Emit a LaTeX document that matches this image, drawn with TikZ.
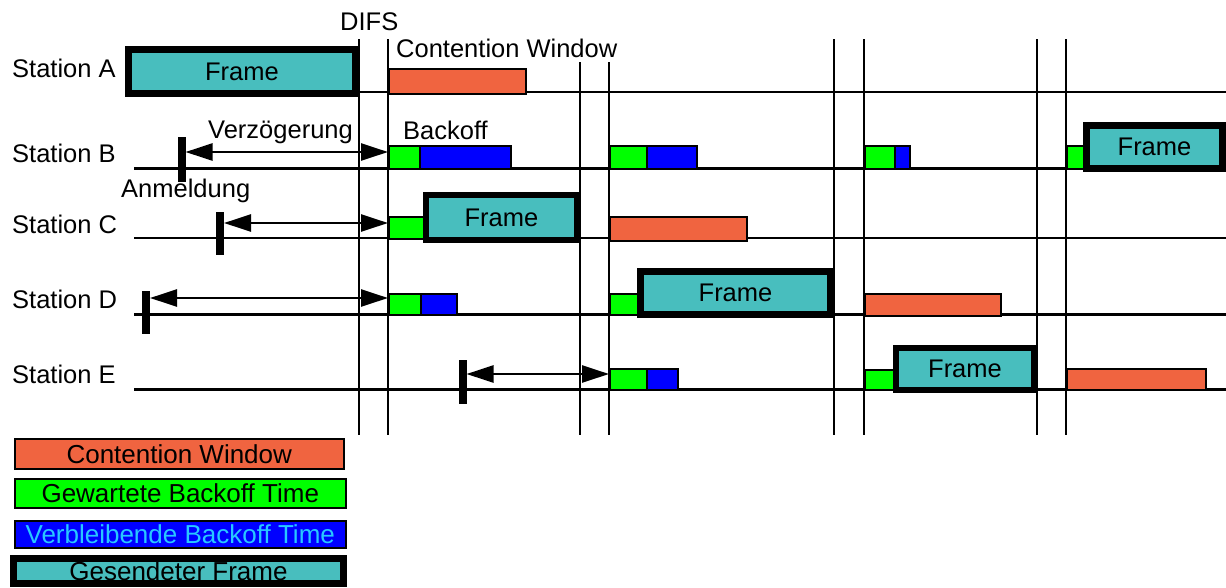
\documentclass[tikz,border=0pt]{standalone}
\usepackage{fontspec}
\setmainfont{Liberation Sans}
\usepackage{xcolor}
\usetikzlibrary{arrows.meta}
\definecolor{cwred}{RGB}{240,100,64}
\definecolor{frmteal}{RGB}{72,190,190}
\definecolor{bogreen}{RGB}{0,255,0}
\definecolor{boblue}{RGB}{0,0,255}
\definecolor{bocyan}{RGB}{40,200,255}

\begin{document}
\begin{tikzpicture}[x=1pt,y=1pt]
\tikzstyle{every node}+=[inner sep=0pt, font=\fontsize{25.5}{30}\selectfont]
\tikzstyle{cwbox}=[draw=black, fill=cwred, line width=1.5pt, anchor=north west]
\tikzstyle{wbox}=[draw=black, fill=bogreen, line width=1.5pt, anchor=north west]
\tikzstyle{rbox}=[draw=black, fill=boblue, line width=1.5pt, anchor=north west]
\tikzstyle{frm}=[draw=black, fill=frmteal, line width=7pt]
\tikzstyle{tick}=[fill=black, minimum width=8pt]
\tikzstyle{stline}=[black, line width=3pt]
\tikzstyle{vline}=[black, line width=2.5pt]
\tikzstyle{delay}=[{Triangle[length=27pt,width=17pt]}-{Triangle[length=27pt,width=17pt]}, line width=2.5pt]
\tikzstyle{legtext}=[font=\fontsize{26}{30}\selectfont]
\useasboundingbox (0,0) rectangle (1226,-587);
\draw [vline] (359,-39) -- (359,-435);
\draw [vline] (388,-39) -- (388,-435);
\draw [vline] (580,-62) -- (580,-435);
\draw [vline] (609,-62) -- (609,-435);
\draw [vline] (834,-39) -- (834,-435);
\draw [vline] (864,-39) -- (864,-435);
\draw [vline] (1037,-39) -- (1037,-435);
\draw [vline] (1066,-39) -- (1066,-435);
\draw [stline, line width=2.5pt] (359,-92) -- (1226,-92);
\draw [stline] (134,-168) -- (1226,-168);
\draw [stline, line width=2.5pt] (134,-238) -- (1226,-238);
\draw [stline] (134,-314) -- (1226,-314);
\draw [stline] (134,-389) -- (1226,-389);
\node [anchor=base west] (labA) at (12,-77) {Station A};
\node [anchor=base west] (labB) at (12,-162) {Station B};
\node [anchor=base west] (labC) at (12,-233) {Station C};
\node [anchor=base west] (labD) at (12,-308) {Station D};
\node [anchor=base west] (labE) at (12,-383) {Station E};
\node [anchor=base west] (difs) at (340,-30) {DIFS};
\node [anchor=base west] (cwlab) at (396,-57) {Contention Window};
\node [anchor=base west] (verz) at (208,-138) {Verzögerung};
\node [anchor=base west] (boff) at (403,-139) {Backoff};
\node [anchor=base west] (anm) at (121,-197) {Anmeldung};
\node [frm, minimum width=227pt, minimum height=44pt] (frA) at (242,-71.5) {Frame};
\node [cwbox, minimum width=137pt, minimum height=25pt] (cwA) at (388,-68) {};
\node [wbox, minimum width=31pt, minimum height=23pt] (gB1) at (388,-145) {};
\node [rbox, minimum width=91pt, minimum height=23pt] (bB1) at (419,-145) {};
\node [wbox, minimum width=37pt, minimum height=23pt] (gB2) at (609,-145) {};
\node [rbox, minimum width=50pt, minimum height=23pt] (bB2) at (646,-145) {};
\node [wbox, minimum width=30pt, minimum height=23pt] (gB3) at (864,-145) {};
\node [rbox, minimum width=15pt, minimum height=23pt] (bB3) at (894,-145) {};
\node [wbox, minimum width=20pt, minimum height=23pt] (gB4) at (1066,-145) {};
\node [frm, minimum width=136pt, minimum height=43pt] (frB) at (1154.5,-147) {Frame};
\node [wbox, minimum width=37pt, minimum height=22pt] (gC1) at (388,-216) {};
\node [frm, line width=6pt, minimum width=151pt, minimum height=45pt] (frC) at (501.5,-217.5) {Frame};
\node [cwbox, minimum width=137pt, minimum height=24pt] (cwC) at (609,-216) {};
\node [wbox, minimum width=32pt, minimum height=21pt] (gD1) at (388,-293) {};
\node [rbox, minimum width=36pt, minimum height=21pt] (bD1) at (420,-293) {};
\node [wbox, minimum width=32pt, minimum height=21pt] (gD2) at (609,-293) {};
\node [frm, minimum width=190pt, minimum height=43pt] (frD) at (735.5,-293) {Frame};
\node [cwbox, minimum width=136pt, minimum height=22pt] (cwD) at (864,-293) {};
\node [wbox, minimum width=37pt, minimum height=21pt] (gE1) at (609,-368) {};
\node [rbox, minimum width=31pt, minimum height=21pt] (bE1) at (646,-368) {};
\node [wbox, minimum width=31pt, minimum height=20pt] (gE2) at (864,-369) {};
\node [frm, line width=6pt, minimum width=138pt, minimum height=42pt] (frE) at (965,-369) {Frame};
\node [cwbox, minimum width=139pt, minimum height=21pt] (cwE) at (1066,-368) {};
\node [tick, minimum height=45pt] (tB) at (181.5,-159.5) {};
\node [tick, minimum height=43pt] (tC) at (220,-233.5) {};
\node [tick, minimum height=43pt] (tD) at (146,-312.5) {};
\node [tick, minimum height=44pt] (tE) at (462.5,-382) {};
\coordinate (vB) at (185.5,-152);
\coordinate (vC) at (224,-223);
\coordinate (vD) at (150,-298);
\coordinate (vE) at (466.5,-374);
\draw [delay] (vB) -- (vB -| gB1.west);
\draw [delay] (vC) -- (vC -| gC1.west);
\draw [delay] (vD) -- (vD -| gD1.west);
\draw [delay] (vE) -- (vE -| gE1.west);
\node [cwbox, legtext, minimum width=329pt, minimum height=30pt] (legCW) at (14,-438) {Contention Window};
\node [wbox, legtext, minimum width=331pt, minimum height=29pt] (legW) at (14,-478) {Gewartete Backoff Time};
\node [rbox, legtext, text=bocyan, minimum width=331pt, minimum height=27pt] (legR) at (14,-520) {Verbleibende Backoff Time};
\node [frm, legtext, minimum width=330pt, minimum height=25pt] (legF) at (178.5,-571) {Gesendeter Frame};
\end{tikzpicture}
\end{document}
